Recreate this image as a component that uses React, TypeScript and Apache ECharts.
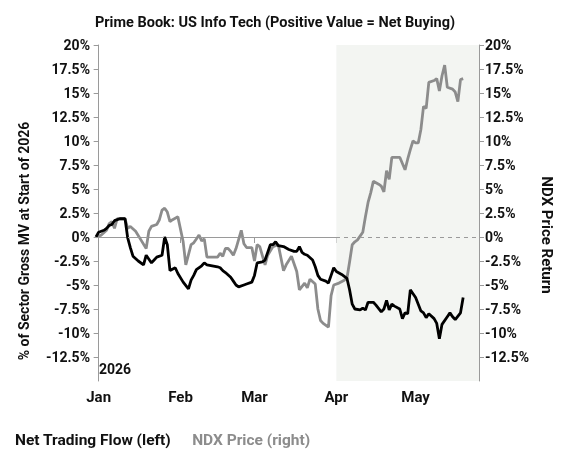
import React, { useEffect, useRef } from "react";
import * as echarts from "echarts";

// Days since 2026-01-01 (0 = Jan 1)
const flowDays = [-1, 0, 2, 3, 4, 5, 6, 8, 10, 11, 12, 13, 15, 17, 18, 20, 21, 22, 24, 25, 26, 27, 29, 30, 32, 34, 35, 36, 37, 39, 40, 41, 43, 45, 46, 47, 48, 50, 51, 52, 53, 55, 56, 58, 59, 60, 62, 63, 64, 65, 66, 67, 68, 70, 72, 74, 75, 76, 77, 78, 79, 81, 82, 83, 84, 86, 87, 88, 89, 90, 92, 94, 95, 96, 97, 99, 100, 101, 102, 104, 105, 107, 108, 109, 110, 111, 112, 114, 115, 116, 117, 118, 120, 121, 122, 123, 124, 125, 127, 128, 129, 130, 132, 133, 134, 135, 137, 138];
const flowValues = [0, 0.5, 0.7, 0.9, 1.2, 1.3, 1.7, 1.9, 1.9, -0.1, -1.1, -2.0, -2.5, -2.9, -1.9, -2.7, -2.4, -2.1, -1.9, 0.0, -0.8, -3.5, -3.2, -3.8, -4.7, -5.4, -4.5, -4.0, -3.4, -3.0, -2.7, -2.9, -3.0, -3.1, -3.2, -3.5, -3.7, -4.2, -4.6, -5.0, -5.2, -5.0, -4.9, -4.7, -4.0, -2.7, -2.6, -2.4, -1.6, -0.8, -0.8, -0.5, -0.9, -1.0, -1.3, -1.5, -1.5, -1.0, -1.6, -1.8, -1.9, -2.4, -3.1, -4.0, -4.4, -4.6, -4.8, -4.0, -3.2, -3.6, -3.9, -4.3, -5.5, -7.0, -7.5, -7.6, -7.4, -7.6, -6.8, -6.8, -7.1, -7.8, -7.5, -6.6, -7.6, -7.0, -7.2, -7.5, -8.5, -7.9, -8.0, -5.5, -6.3, -7.0, -7.7, -7.9, -8.4, -8.0, -8.5, -9.0, -10.6, -9.1, -8.3, -7.9, -8.3, -8.6, -7.9, -6.3];

const ndxDays = [-1, 1, 3, 4, 5, 6, 7, 8, 10, 11, 12, 14, 16, 18, 19, 20, 22, 23, 24, 25, 26, 27, 28, 30, 32, 33, 35, 36, 37, 38, 39, 40, 41, 43, 45, 46, 47, 48, 49, 50, 51, 52, 54, 55, 56, 58, 59, 60, 61, 63, 64, 66, 68, 70, 71, 73, 75, 76, 78, 79, 80, 82, 83, 84, 85, 87, 88, 89, 91, 93, 94, 95, 96, 97, 98, 100, 101, 102, 103, 104, 106, 107, 108, 109, 110, 111, 113, 114, 116, 117, 118, 119, 120, 121, 122, 123, 124, 125, 127, 128, 129, 130, 131, 132, 134, 135, 136, 137, 138];
const ndxValues = [0, 0.2, 0.7, 1.4, 1.6, 0.9, 1.9, 1.9, 1.9, 0.9, 1.1, 0.6, -0.3, -1.2, 0.6, 1.1, 1.3, 1.8, 2.8, 3.0, 2.6, 1.6, 1.8, 2.1, -0.5, -2.9, -0.8, -0.6, -0.2, 0.2, -0.4, -0.2, -2.1, -2.1, -2.1, -1.7, -2.0, -1.2, -1.2, -1.5, -1.9, -1.2, 0.7, -0.7, -1.1, -1.1, -2.5, -0.8, -1.0, -2.9, -1.9, -1.0, -0.8, -3.5, -2.9, -2.0, -3.6, -5.5, -4.8, -5.3, -4.4, -4.9, -7.5, -8.7, -9.0, -9.4, -6.1, -5.0, -4.8, -4.5, -4.3, -2.6, -0.8, -0.5, -0.3, 0.5, 2.1, 3.6, 4.6, 5.8, 5.5, 5.3, 4.7, 6.9, 6.0, 8.3, 8.3, 8.3, 7.0, 8.1, 9.1, 10.0, 9.8, 9.8, 11.2, 13.6, 13.4, 16.1, 16.3, 16.5, 15.2, 16.8, 17.9, 15.6, 15.4, 15.1, 14.1, 16.4, 16.5];

const monthTicks = [0, 31, 59, 90, 120];
const monthLabels = ["Jan", "Feb", "Mar", "Apr", "May"];
const yTicks = [-12.5, -10, -7.5, -5, -2.5, 0, 2.5, 5, 7.5, 10, 12.5, 15, 17.5, 20];

const FONT = "Roboto";

export default function App() {
  const ref = useRef<HTMLDivElement>(null);
  useEffect(() => {
    if (!ref.current) return;
    const chart = echarts.init(ref.current, null, { renderer: "svg" });
    const fmtPct = (v: number) => `${v}%`;
    const yAxisBase = {
      type: "value",
      min: -15,
      max: 20,
      interval: 2.5,
      nameLocation: "middle",
      axisLine: { show: true, lineStyle: { color: "#9a9a9a", width: 1 } },
      axisTick: { show: true, customValues: yTicks, length: 5, lineStyle: { color: "#9a9a9a" } },
      axisLabel: {
        customValues: yTicks,
        formatter: fmtPct,
        fontFamily: FONT,
        fontWeight: "bold",
        fontSize: 14,
        color: "#111",
        margin: 6,
      },
      splitLine: { show: false },
    };
    chart.setOption({
      animation: false,
      title: {
        text: "Prime Book: US Info Tech (Positive Value = Net Buying)",
        left: 270,
        textAlign: "center",
        top: 10,
        textStyle: { fontFamily: FONT, fontWeight: "bold", fontSize: 14.5, color: "#111" },
      },
      legend: {
        left: 5,
        top: 427,
        icon: "none",
        itemWidth: 0,
        itemGap: 16,
        data: [
          { name: "Net Trading Flow (left)", textStyle: { color: "#111" } },
          { name: "NDX Price (right)", textStyle: { color: "#8c8c8c" } },
        ],
        textStyle: { fontFamily: FONT, fontWeight: "bold", fontSize: 15.5 },
      },
      grid: { left: 96, right: 85, top: 45, bottom: 79 },
      xAxis: {
        type: "value",
        min: -1,
        max: 144,
        axisLine: { show: true, lineStyle: { color: "#9a9a9a" } },
        axisTick: { show: true, customValues: monthTicks, length: 6, lineStyle: { color: "#9a9a9a" } },
        axisLabel: {
          customValues: monthTicks,
          formatter: (v: number) => monthLabels[monthTicks.indexOf(v)] ?? "",
          fontFamily: FONT,
          fontWeight: "bold",
          fontSize: 15,
          color: "#111",
          margin: 8,
        },
        splitLine: { show: false },
      },
      yAxis: [
        {
          ...yAxisBase,
          position: "left",
          name: "% of Sector Gross MV at Start of 2026",
          nameGap: 65,
          nameTextStyle: {
            fontFamily: FONT,
            fontWeight: "bold",
            fontSize: 14,
            color: "#111",
            padding: [0, 56, 0, 0],
          },
        },
        {
          ...yAxisBase,
          position: "right",
          name: "NDX Price Return",
          nameGap: 55,
          nameRotate: -90,
          nameTextStyle: {
            fontFamily: FONT,
            fontWeight: "bold",
            fontSize: 15,
            color: "#111",
            padding: [0, 0, 0, 44],
          },
        },
      ],
      graphic: [
        {
          type: "text",
          left: 99,
          top: 362,
          style: { text: "2026", fontFamily: FONT, fontWeight: "bold", fontSize: 14, fill: "#111" },
        },
      ],
      series: [
        {
          name: "NDX Price (right)",
          type: "line",
          yAxisIndex: 1,
          data: ndxDays.map((d, i) => [d, ndxValues[i]]),
          showSymbol: false,
          lineStyle: { color: "#8c8c8c", width: 2.8 },
          itemStyle: { color: "#8c8c8c" },
          z: 2,
          markArea: {
            silent: true,
            itemStyle: { color: "#f3f5f2" },
            data: [[{ xAxis: 90 }, { xAxis: 144 }]],
          },
        },
        {
          name: "Net Trading Flow (left)",
          type: "line",
          yAxisIndex: 0,
          data: flowDays.map((d, i) => [d, flowValues[i]]),
          showSymbol: false,
          lineStyle: { color: "#000", width: 2.8 },
          itemStyle: { color: "#000" },
          z: 3,
          markLine: {
            silent: true,
            symbol: "none",
            label: { show: false },
            lineStyle: { color: "#9a9a9a", type: [4, 4], width: 1 },
            data: [{ yAxis: 0 }],
          },
        },
      ],
    });
    return () => chart.dispose();
  }, []);
  return (
    <div
      ref={ref}
      style={{ position: "fixed", left: 0, top: 0, width: 564, height: 460 }}
    />
  );
}
